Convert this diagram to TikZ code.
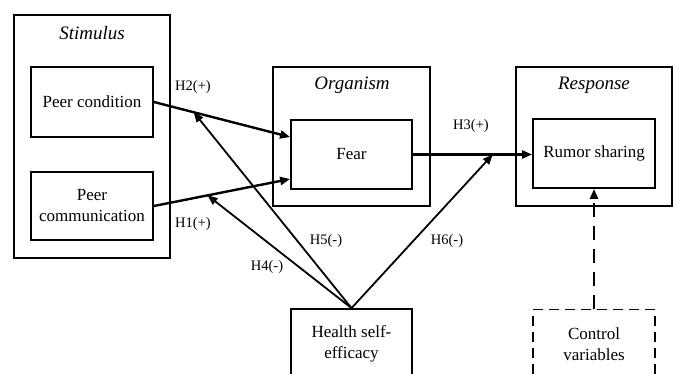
\documentclass[tikz,border=0pt]{standalone}
\usepackage{fontspec}
\setmainfont{Liberation Serif}
\usetikzlibrary{arrows.meta}
\begin{document}
\begin{tikzpicture}[x=1pt,y=-1pt,
  outerbox/.style={draw, line width=1.8pt, inner sep=0pt},
  innerbox/.style={draw, line width=1.8pt, inner sep=0pt, align=center,
    font=\fontsize{17}{21}\selectfont},
  dashbox/.style={innerbox, dash pattern=on 10pt off 6pt},
  title/.style={font=\fontsize{19}{22}\selectfont\itshape, inner sep=0pt},
  hlabel/.style={font=\fontsize{14.5}{17}\selectfont, inner sep=0pt},
  mainarrow/.style={line width=2.4pt, -{Triangle[length=10pt,width=8pt]}},
  modarrow/.style={line width=1.8pt, -{Triangle[length=10pt,width=8pt]}},
  ctrlarrow/.style={line width=2.4pt, dash pattern=on 14pt off 9pt, -{Triangle[length=10pt,width=8pt]}}
]
\useasboundingbox (0,0) rectangle (676,373);
\clip (0,0) rectangle (676,373);
\fill[white] (0,0) rectangle (676,373);

% outer boxes
\node[outerbox, minimum width=156pt, minimum height=243pt] (stim) at (92,136.5) {};
\node[outerbox, minimum width=157pt, minimum height=139pt] (org) at (351.5,136.5) {};
\node[outerbox, minimum width=156pt, minimum height=139pt] (resp) at (594,136.5) {};

% titles
\node[title] (stimt) at (92,33) {Stimulus};
\node[title] (orgt) at (352,85) {Organism};
\node[title] (respt) at (594,85) {Response};

% inner boxes
\node[innerbox, minimum width=122pt, minimum height=70pt] (pcond) at (92,102) {Peer condition};
\node[innerbox, minimum width=122pt, minimum height=68pt] (pcomm) at (92,206) {Peer\\communication};
\node[innerbox, minimum width=121pt, minimum height=69pt] (fear) at (351.5,154.5) {Fear};
\node[innerbox, minimum width=122pt, minimum height=69pt] (rumor) at (594,153.5) {Rumor sharing};
\node[innerbox, minimum width=121pt, minimum height=70pt] (health) at (351.5,344) {Health self-\\efficacy};
\node[dashbox, minimum width=122pt, minimum height=70pt] (ctrl) at (594,344.5) {Control\\variables};

% main paths
\coordinate (fearin1) at ([yshift=17.5pt]fear.west);
\coordinate (fearin2) at ([yshift=-24.5pt]fear.west);
\coordinate (rumin) at (fear.east -| rumor.west);
\draw[mainarrow] (pcond.east) -- (fearin1);
\draw[mainarrow] (pcomm.east) -- (fearin2);
\draw[mainarrow] (fear.east) -- (rumin);

% moderation targets on the paths
\path (pcond.east) -- (fearin1) coordinate[pos=0.292] (h5end);
\path (pcomm.east) -- (fearin2) coordinate[pos=0.394] (h4end);
\path (fear.east) -- (rumin) coordinate[pos=0.67] (h6end);

\draw[modarrow] (health.north) -- (h4end);
\draw[modarrow] (health.north) -- (h5end);
\draw[modarrow] (health.north) -- (h6end);

\draw[ctrlarrow] (ctrl.north) -- (rumor.south);

% labels
\node[hlabel] (h2) at (193,87) {H2(+)};
\node[hlabel] (h1) at (193,224) {H1(+)};
\node[hlabel] (h3) at (471,126) {H3(+)};
\node[hlabel] (h5) at (326,241) {H5(-)};
\node[hlabel] (h4) at (267,267) {H4(-)};
\node[hlabel] (h6) at (447,241) {H6(-)};
\end{tikzpicture}
\end{document}
